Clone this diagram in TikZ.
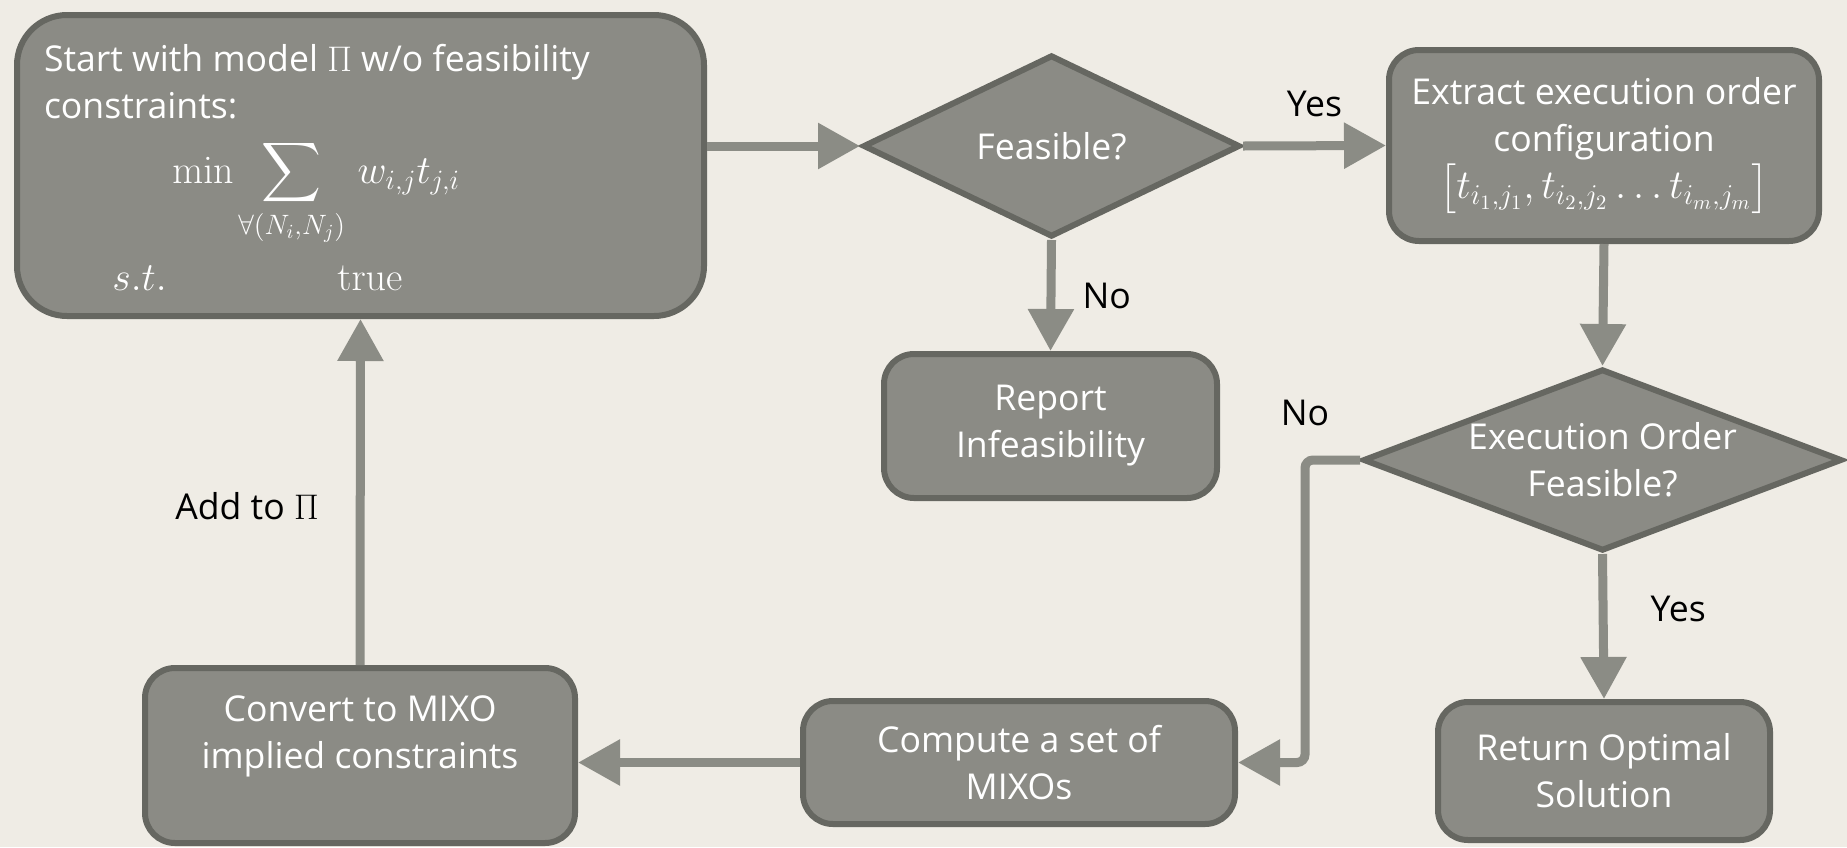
\documentclass[tikz,border=0pt]{standalone}
\usepackage{fix-cm}
\usepackage{amsmath}
\usepackage[no-math]{fontspec}
\setmainfont{Open Sans}
\usetikzlibrary{shapes.geometric,arrows.meta}

\definecolor{paper}{HTML}{EFECE5}
\definecolor{boxfill}{HTML}{8B8B85}
\definecolor{boxline}{HTML}{666761}
\definecolor{flowgray}{HTML}{8B8C85}

\begin{document}
\begin{tikzpicture}[x=0.5pt, y=-0.5pt,
    box/.style={draw=boxline, fill=boxfill, line width=3pt, rounded corners=15pt,
        text=white, align=center, font=\fontsize{17.8}{23.5}\selectfont},
    decision/.style={diamond, draw=boxline, fill=boxfill, line width=3pt, aspect=2.6,
        inner sep=-8pt, text=white, align=center, font=\fontsize{17.8}{23.5}\selectfont},
    flow/.style={draw=flowgray, line width=4.5pt, -{Triangle[length=21pt,width=22pt]}},
    lbl/.style={inner sep=0pt, text=black, font=\fontsize{17.8}{21}\selectfont},
    boxtext/.style={inner sep=0pt, text=white, font=\fontsize{17.8}{23.5}\selectfont},
    mathtext/.style={inner sep=0pt, text=white, font=\fontsize{20}{24}\selectfont}]

    \path[use as bounding box, fill=paper] (0,0) rectangle (1847,847);

    % the model box
    \node[box, rounded corners=25pt, minimum width=343.5pt, minimum height=150.5pt] (start) at (360.5,165.5) {};
    \node[boxtext, anchor=north west, align=left] (title) at (43.6,44) {Start with model $\Pi$ w/o feasibility\\constraints:};
    \node[mathtext, anchor=base west] (obj) at (172,183) {$\displaystyle\min\hspace{-1pt}\sum_{\forall(N_i,N_j)}\hspace{3pt} w_{i,j}t_{j,i}$};
    \node[mathtext, anchor=base west] (st) at (112,290) {$s.t.$};
    \node[mathtext, anchor=base west] (true) at (337,290) {$\mathrm{true}$};

    \node[decision, minimum width=188.5pt, minimum height=91pt] (feas) at (1051.5,146) {Feasible?};
    \node[box, minimum width=215pt, minimum height=95.5pt] (extract) at (1604,145.5)
        {Extract execution order\\configuration\\{\fontsize{20.5}{24}\selectfont$\bigl[t_{i_1,j_1},t_{i_2,j_2}\ldots t_{i_m,j_m}\bigr]$}};
    \node[box, minimum width=166.5pt, minimum height=72pt] (report) at (1050.5,426) {Report\\Infeasibility};
    \node[decision, minimum width=239.5pt, minimum height=91pt] (exec) at (1602.5,460) {Execution Order\\Feasible?};
    \node[box, minimum width=166pt, minimum height=69pt] (return) at (1604,771) {Return Optimal\\Solution};
    \node[box, minimum width=216pt, minimum height=61.5pt] (compute) at (1019,762.5) {Compute a set of\\MIXOs};
    \node[box, minimum width=215pt, minimum height=87.5pt] (convert) at (360,755.5) {Convert to MIXO\\implied constraints\\\mbox{}};

    % connectors
    \draw[flow] (start.east |- feas.west) -- (feas.west);
    \draw[flow] (feas.east) -- (extract.west) node[lbl, midway, above=12pt] {Yes};
    \draw[flow] (feas.south) -- (report.north) node[lbl, midway, right=13.5pt] {No};
    \draw[flow] (extract.south) -- (exec.north);
    \draw[flow] (exec.south) -- (return.north) node[lbl, pos=.38, right=21.5pt] {Yes};
    \draw[flow, rounded corners=4pt] (exec.west) -- ++(-55,0) node[lbl, above=15pt] {No} |- (compute.east);
    \draw[flow] (compute.west) -- (convert.east |- compute.west);
    \draw[flow] (convert.north) -- (start.south) node[lbl, pos=.46, left=18.5pt] {Add to $\Pi$};

\end{tikzpicture}
\end{document}
